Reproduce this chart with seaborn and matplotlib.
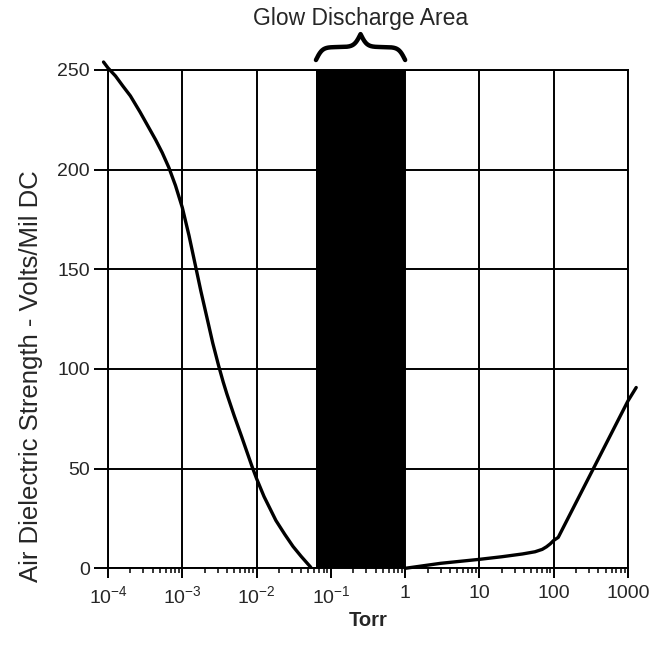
import numpy as np
import matplotlib
matplotlib.use("Agg")
import matplotlib.pyplot as plt
import matplotlib.transforms as mtransforms
from matplotlib.ticker import NullFormatter
import seaborn as sns

# curve below the glow discharge region (Torr, volts/mil)
low_torr = [8.7e-5, 1.0e-4, 1.26e-4, 1.58e-4, 2.0e-4, 2.69e-4, 3.55e-4, 4.37e-4, 5.37e-4,
            6.6e-4, 8.1e-4, 1.0e-3, 1.23e-3, 1.48e-3, 1.78e-3, 2.14e-3, 2.57e-3, 3.09e-3,
            3.55e-3, 3.98e-3, 5.0e-3, 6.3e-3, 7.4e-3, 8.7e-3, 1.0e-2, 1.26e-2, 1.82e-2,
            2.4e-2, 3.09e-2, 3.98e-2, 5.37e-2]
low_strength = [254, 251, 247, 242, 237, 229, 221, 215, 208.5,
                201, 192, 181, 167, 153, 139, 126, 113, 101.5,
                93.5, 87.5, 76.5, 66, 58.5, 51, 45, 36, 24,
                17, 11, 6, 0.5]

# curve above the glow discharge region
high_torr = [1, 3, 10, 20, 38, 56, 70, 80, 90, 100, 115, 1000, 1290]
high_strength = [0, 2.5, 4.5, 5.8, 7.2, 8.3, 9.5, 10.8, 12.3, 14.0, 15.5, 84, 90.7]

glow_band = [0.063, 1.0]

x_ticks = [1e-4, 1e-3, 1e-2, 1e-1, 1, 10, 100, 1000]
x_labels = ["$10^{-4}$", "$10^{-3}$", "$10^{-2}$", "$10^{-1}$", "1", "10", "100", "1000"]
y_ticks = [0, 50, 100, 150, 200, 250]

sns.set_style("white")
plt.rcParams["font.family"] = ["Liberation Sans", "DejaVu Sans"]
plt.rcParams["mathtext.fontset"] = "custom"
plt.rcParams["mathtext.rm"] = "Liberation Sans"
plt.rcParams["mathtext.it"] = "Liberation Sans:italic"

fig = plt.figure(figsize=(6.68, 6.45), dpi=100)
ax = fig.add_axes([0.1617, 0.1189, 0.7784, 0.7726])
ax.set_xscale("log")
ax.set_xlim(1e-4, 1e3)
ax.set_ylim(0, 250)

# grid
ax.grid(True, which="major", color="black", linewidth=1.4)
ax.set_axisbelow(True)

# glow discharge band
ax.axvspan(glow_band[0], glow_band[1], ymin=0, ymax=1, color="black", lw=0, zorder=2)

sns.lineplot(x=low_torr, y=low_strength, ax=ax, color="black", linewidth=2.4,
             estimator=None, sort=False, clip_on=False, zorder=3)
sns.lineplot(x=high_torr, y=high_strength, ax=ax, color="black", linewidth=2.4,
             estimator=None, sort=False, clip_on=False, zorder=3)

for s in ax.spines.values():
    s.set_color("black")
    s.set_linewidth(1.4)

ax.set_xticks(x_ticks, x_labels)
ax.xaxis.set_minor_formatter(NullFormatter())
ax.set_yticks(y_ticks)
ax.tick_params(axis="y", which="major", direction="out", length=10, width=1.4,
               color="black", labelsize=14, pad=3, left=True)
ax.tick_params(axis="x", which="major", direction="out", length=7, width=1.4,
               color="black", labelsize=14, pad=5, bottom=True)
ax.tick_params(axis="x", which="minor", direction="out", length=3.5, width=1.1,
               color="black", bottom=True)

ax.set_xlabel("Torr", fontsize=14.5, fontweight="bold")
ax.xaxis.set_label_coords(0.5, -0.085)
ax.set_ylabel("Air Dielectric Strength - Volts/Mil DC", fontsize=18.5)
ax.yaxis.set_label_coords(-0.125, 0.386)

# curly brace over the band
trans = mtransforms.blended_transform_factory(ax.transData, ax.transAxes)
beta = 28.0
half = np.linspace(0, 0.5, 200)
yb = 1 / (1 + np.exp(-beta * (half - half[0]))) + 1 / (1 + np.exp(-beta * (half - half[-1])))
yb = np.concatenate((yb, yb[-2::-1]))
frac = np.linspace(0, 1, yb.size)
lx0, lx1 = np.log10(glow_band[0]), np.log10(glow_band[1])
bx = 10 ** (lx0 + frac * (lx1 - lx0))
by = 1.02 + (yb - 0.5) * 0.052
ax.plot(bx, by, color="black", lw=3.2, transform=trans, clip_on=False,
        solid_capstyle="round")

fig.text(361 / 668, 1 - 19 / 645, "Glow Discharge Area", fontsize=16.5,
         ha="center", va="center")

fig.savefig("out.png", dpi=100)
